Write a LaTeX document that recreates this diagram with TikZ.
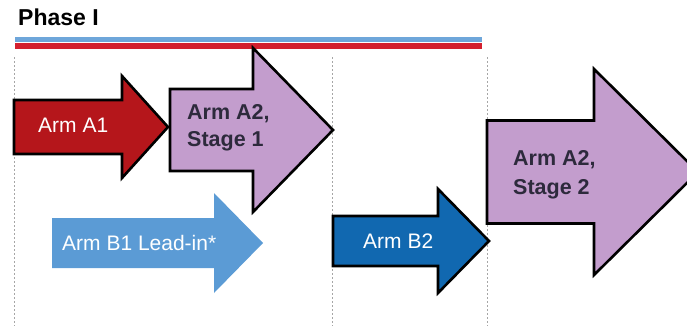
\documentclass[tikz,border=0pt]{standalone}
\usepackage{fontspec}
\setmainfont{Liberation Sans}
\usepackage{tikz}
\usepackage{xcolor}
\usetikzlibrary{positioning,calc}

\definecolor{armred}{RGB}{181,22,27}
\definecolor{armpurple}{RGB}{195,157,205}
\definecolor{armlight}{RGB}{91,155,213}
\definecolor{armdark}{RGB}{17,104,176}
\definecolor{phaseblue}{RGB}{110,166,218}
\definecolor{phasered}{RGB}{211,32,47}
\definecolor{stagetext}{RGB}{45,42,60}

\begin{document}
\begin{tikzpicture}[x=1pt, y=-1pt,
    armbox/.style={draw=black, line width=2.6pt, line join=miter},
    guide/.style={gray!70, line width=1pt, dash pattern=on 2pt off 2pt},
    armlabel/.style={font=\fontsize{21}{28}\selectfont, inner sep=0pt, align=left}]
    \useasboundingbox (0,0) rectangle (687,329);
    \clip (0,0) rectangle (687,329);

    % Phase title and bars
    \node[anchor=base west, inner sep=0pt, font=\fontsize{23}{26}\selectfont\bfseries] (phase) at (18,26) {Phase I};
    \draw[phaseblue, line width=5pt] (15,39.5) -- (482,39.5);
    \draw[phasered, line width=5.5pt] (15,46) -- (482,46);

    % Guide lines
    \draw[guide] (14,57) -- (14,326);
    \draw[guide] (332,57) -- (332,326);
    \draw[guide] (487,57) -- (487,326);

    % Arm A1
    \draw[armbox, fill=armred] (14,100) -- (122,100) -- (122,76) -- (168,127) -- (122,178) -- (122,154) -- (14,154) -- cycle;
    \node[armlabel, anchor=base west, text=white] (a1) at (38,132) {Arm A1};

    % Arm A2, stage 1
    \draw[armbox, fill=armpurple] (170,89) -- (253,89) -- (253,48) -- (333,130) -- (253,212) -- (253,171) -- (170,171) -- cycle;
    \node[armlabel, anchor=west, text=stagetext, font=\fontsize{21.5}{27}\selectfont\bfseries] (a2s1) at (187,128) {Arm A2,\\Stage 1};

    % Arm B1 lead-in
    \fill[armlight] (52,218) -- (214,218) -- (214,193) -- (263,243) -- (214,293) -- (214,268) -- (52,268) -- cycle;
    \node[armlabel, anchor=base west, text=white] (b1) at (62,250) {Arm B1 Lead-in*};

    % Arm B2
    \draw[armbox, fill=armdark] (333,216) -- (438,216) -- (438,189) -- (489,241) -- (438,293) -- (438,266) -- (333,266) -- cycle;
    \node[armlabel, anchor=base west, text=white] (b2) at (363,248) {Arm B2};

    % Arm A2, stage 2
    \draw[armbox, fill=armpurple] (487,120.5) -- (594,120.5) -- (594,69) -- (698,172) -- (594,275) -- (594,223.5) -- (487,223.5) -- cycle;
    \node[armlabel, anchor=west, text=stagetext, font=\fontsize{21.5}{29}\selectfont\bfseries] (a2s2) at (513,175) {Arm A2,\\Stage 2};
\end{tikzpicture}
\end{document}
